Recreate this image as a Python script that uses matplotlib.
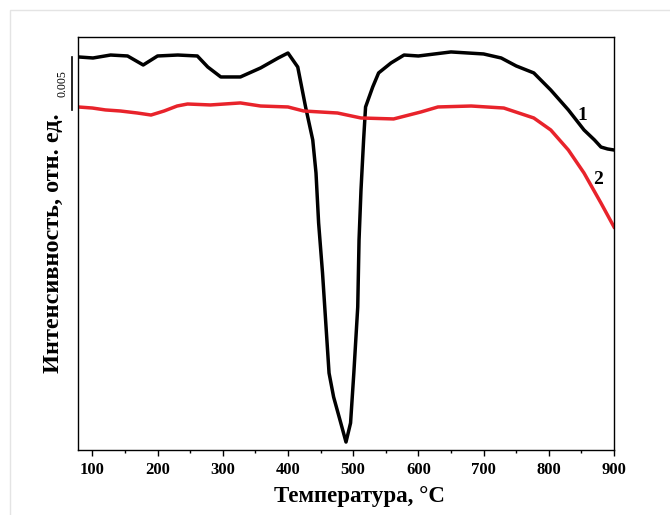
import numpy as np
import matplotlib
matplotlib.use("Agg")
import matplotlib.pyplot as plt
from matplotlib.patches import Rectangle
from matplotlib.ticker import MultipleLocator

plt.rcParams["font.family"] = ["Liberation Serif", "DejaVu Serif"]

# intensity values in units of 0.001 (arb. offset)
t_black = [78, 101, 128, 154, 178, 200, 231, 261, 277, 297, 327, 358, 385, 400,
           415, 427, 438, 443, 447, 453, 458, 463, 470, 481, 489, 496, 501, 507,
           509, 512, 516, 519, 530, 539, 558, 578, 600, 650, 700, 727, 750, 777,
           803, 830, 854, 870, 880, 890, 900]
i_black = [37.08, 36.98, 37.26, 37.17, 36.32, 37.17, 37.26, 37.17, 36.13, 35.19,
           35.19, 36.04, 36.98, 37.45, 36.13, 32.36, 29.25, 26.13, 21.42, 16.70,
           11.98, 7.26, 5.00, 2.55, 0.75, 2.55, 7.26, 13.49, 19.81, 24.53, 29.25,
           32.36, 34.25, 35.57, 36.51, 37.26, 37.17, 37.55, 37.36, 36.98, 36.23,
           35.57, 33.96, 32.08, 30.19, 29.25, 28.58, 28.40, 28.30]

t_red = [78, 100, 120, 143, 169, 190, 210, 230, 246, 281, 327, 358, 400, 424,
         476, 512, 562, 604, 630, 681, 731, 777, 803, 830, 854, 880, 900]
i_red = [32.36, 32.26, 32.08, 31.98, 31.79, 31.60, 31.98, 32.45, 32.64, 32.55,
         32.74, 32.45, 32.36, 31.98, 31.79, 31.32, 31.23, 31.89, 32.36, 32.45,
         32.26, 31.32, 30.19, 28.30, 26.13, 23.30, 21.04]

scale_bar = 5.0  # 0.005

fig = plt.figure(figsize=(6.7, 5.15), dpi=100)
fig.patches.append(Rectangle((10 / 670, -0.1), 1.2, (505 / 515) + 0.1,
                             transform=fig.transFigure, fill=False,
                             edgecolor="#e4e4e4", lw=1.0))
ax = fig.add_axes([78 / 670, 1 - 450 / 515, 536 / 670, 413 / 515])

ax.plot(t_black, i_black, color="black", lw=2.5, solid_joinstyle="round")
ax.plot(t_red, i_red, color="#e8232b", lw=2.5, solid_joinstyle="round")

ax.set_xlim(78, 900)
ax.set_ylim(0, 38.96)
ax.xaxis.set_major_locator(MultipleLocator(100))
ax.xaxis.set_minor_locator(MultipleLocator(50))
ax.set_yticks([])
ax.tick_params(axis="x", which="major", direction="out", length=4, width=1,
               labelsize=12, pad=5)
ax.tick_params(axis="x", which="minor", direction="out", length=2.5, width=1)
for lab in ax.get_xticklabels():
    lab.set_fontweight("bold")
for sp in ax.spines.values():
    sp.set_linewidth(1.0)

ax.set_xlabel("Температура, °C", fontsize=16.5, fontweight="bold")
ax.xaxis.set_label_coords(0.526, -0.087)
ax.set_ylabel("Интенсивность, отн. ед.", fontsize=17.5, fontweight="bold")
ax.yaxis.set_label_coords(-0.026, 0.5)

# scale bar
bar_x = -6 / 536
ax.plot([bar_x, bar_x], [37.08 - scale_bar, 37.08],
        transform=ax.get_yaxis_transform(), color="black", lw=1.2,
        clip_on=False)
ax.text(-15 / 536, 37.08 - scale_bar / 2, "0.005", rotation=90,
        transform=ax.get_yaxis_transform(), ha="center", va="center",
        fontsize=8.5)

ax.text(852, 31.6, "1", fontsize=14, fontweight="bold", ha="center", va="center")
ax.text(875, 25.5, "2", fontsize=14, fontweight="bold", ha="center", va="center")

fig.savefig("out.png", dpi=100)
